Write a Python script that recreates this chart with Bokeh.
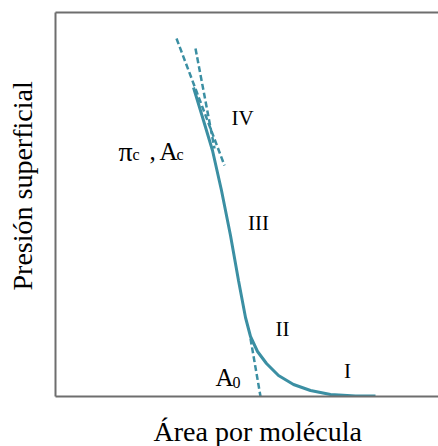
from bokeh.plotting import figure
from bokeh.models import LinearAxis, FixedTicker, Title, Range1d
from bokeh.core.properties import value
from bokeh.embed import file_html
from bokeh.resources import INLINE

# Isotherm (arbitrary units)
area = [138, 148, 157, 166, 175, 183, 190, 195, 202, 211, 223, 238, 255, 275, 300, 320]
pressure = [309, 276, 246, 206, 161, 116, 79, 60, 45, 33, 21, 12, 6, 2, 0.5, 0.5]

# Tangent (dashed) lines
tan_collapse_area = [121, 169]
tan_collapse_pressure = [358, 231]
tan_solid_area = [140, 159]
tan_solid_pressure = [348, 248]
tan_a0_area = [195, 205]
tan_a0_pressure = [58, 0]

# Region labels
region_text = ["IV", "III", "II", "I"]
region_area = [187, 203, 227, 292]
region_pressure = [279, 174, 68, 26]

# Symbol labels (main glyphs and subscripts)
pi_text = ["π"]
pi_area = [63]
pi_pressure = [245]
sym_text = [",", "A", "A"]
sym_area = [94, 104, 160]
sym_pressure = [245, 245, 19]
sub_text = ["c", "c", "0"]
sub_area = [77, 121, 177]
sub_pressure = [242, 242, 14]

x_title = "Área por molécula"
y_title = "Presión superficial"

CURVE = "#3b8fa3"
FONT = "Liberation Serif"
AXIS = "#6e6e6e"

p = figure(width=438, height=446, x_range=Range1d(0, 383), y_range=Range1d(0, 384),
           output_backend="svg", toolbar_location=None,
           x_axis_location=None, y_axis_location=None,
           min_border_left=55, min_border_right=0, min_border_top=12, min_border_bottom=50)
p.outline_line_color = None
p.grid.visible = False
p.background_fill_color = "white"
p.border_fill_color = "white"

def frame_axis():
    return LinearAxis(ticker=FixedTicker(ticks=[]), major_tick_out=0, major_tick_in=0,
                      minor_tick_out=0, minor_tick_in=0, major_label_text_font_size="0px",
                      major_tick_line_color=None, minor_tick_line_color=None,
                      axis_line_color=AXIS, axis_line_width=2)

def spacer(gap):
    return Title(text=" ", text_font_size="1px", standoff=gap)

p.add_layout(frame_axis(), "left")
p.add_layout(frame_axis(), "below")
p.add_layout(frame_axis(), "above")

p.add_layout(spacer(15), "left")
p.add_layout(spacer(14), "below")

p.add_layout(Title(text=y_title, align="left", offset=106, text_font=FONT,
                   text_font_size="28px", text_font_style="normal", text_color="black",
                   standoff=0), "left")
p.add_layout(Title(text=x_title, align="left", offset=98, text_font=FONT,
                   text_font_size="28px", text_font_style="normal", text_color="black",
                   standoff=0), "below")

p.line(area, pressure, line_color=CURVE, line_width=3)
p.line(tan_collapse_area, tan_collapse_pressure, line_color=CURVE, line_width=2.5, line_dash="6 3")
p.line(tan_solid_area, tan_solid_pressure, line_color=CURVE, line_width=2.5, line_dash="6 3")
p.line(tan_a0_area, tan_a0_pressure, line_color=CURVE, line_width=2.5, line_dash="6 3")

p.text(region_area, region_pressure, text=region_text, text_font=value(FONT),
       text_font_size=value("21px"), text_align="center", text_baseline="middle", text_color="black")
p.text(pi_area, pi_pressure, text=pi_text, text_font=value(FONT),
       text_font_size=value("28px"), text_align="left", text_baseline="alphabetic", text_color="black")
p.text(sym_area, sym_pressure, text=sym_text, text_font=value(FONT),
       text_font_size=value("25px"), text_align="left", text_baseline="alphabetic", text_color="black")
p.text(sub_area, sub_pressure, text=sub_text, text_font=value(FONT),
       text_font_size=value("16px"), text_align="left", text_baseline="alphabetic", text_color="black")

open("out.html", "w").write(file_html(p, INLINE))
